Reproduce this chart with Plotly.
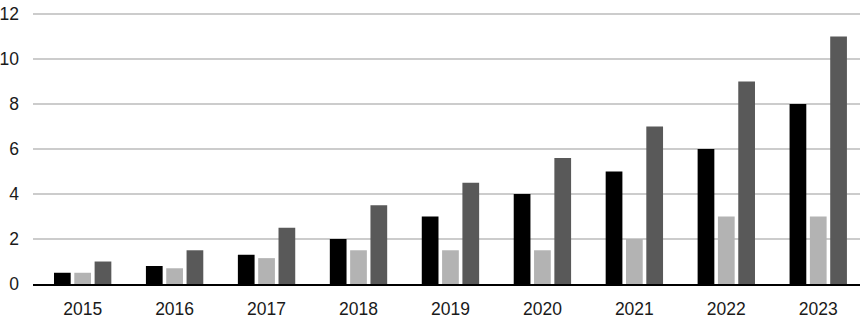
import plotly.graph_objects as go

years = ["2015", "2016", "2017", "2018", "2019", "2020", "2021", "2022", "2023"]
series_a = [0.5, 0.8, 1.3, 2.0, 3.0, 4.0, 5.0, 6.0, 8.0]
series_b = [0.5, 0.7, 1.15, 1.5, 1.5, 1.5, 2.0, 3.0, 3.0]
series_c = [1.0, 1.5, 2.5, 3.5, 4.5, 5.6, 7.0, 9.0, 11.0]
y_ticks = [0, 2, 4, 6, 8, 10, 12]

fig = go.Figure()
for vals, col in [(series_a, "#000000"), (series_b, "#b3b3b3"), (series_c, "#595959")]:
    fig.add_trace(go.Bar(x=years, y=vals, marker=dict(color=col, line=dict(width=0)), showlegend=False))

fig.update_layout(
    width=860, height=330,
    margin=dict(l=33, r=0, t=13, b=46, pad=0),
    paper_bgcolor="white", plot_bgcolor="white",
    barmode="group", bargap=0.337, bargroupgap=0.177,
    font=dict(family="Liberation Sans, Arial, sans-serif", size=17.5, color="#1a1a1a"),
    xaxis=dict(range=[-0.54, 8.454], showgrid=False, showline=True, linecolor="#000000", linewidth=2,
               ticks="", ticklabelstandoff=8, automargin=False),
    yaxis=dict(range=[0, 12.05], tickvals=y_ticks, showgrid=True, gridcolor="#cccccc", gridwidth=1.5,
               zeroline=False, showline=False, ticks="", ticklabelstandoff=13, automargin=False,
               ticklabeloverflow="allow"),
)
fig.write_html("out.html", config={"displayModeBar": False},
               post_script="document.body.style.margin='0';")
